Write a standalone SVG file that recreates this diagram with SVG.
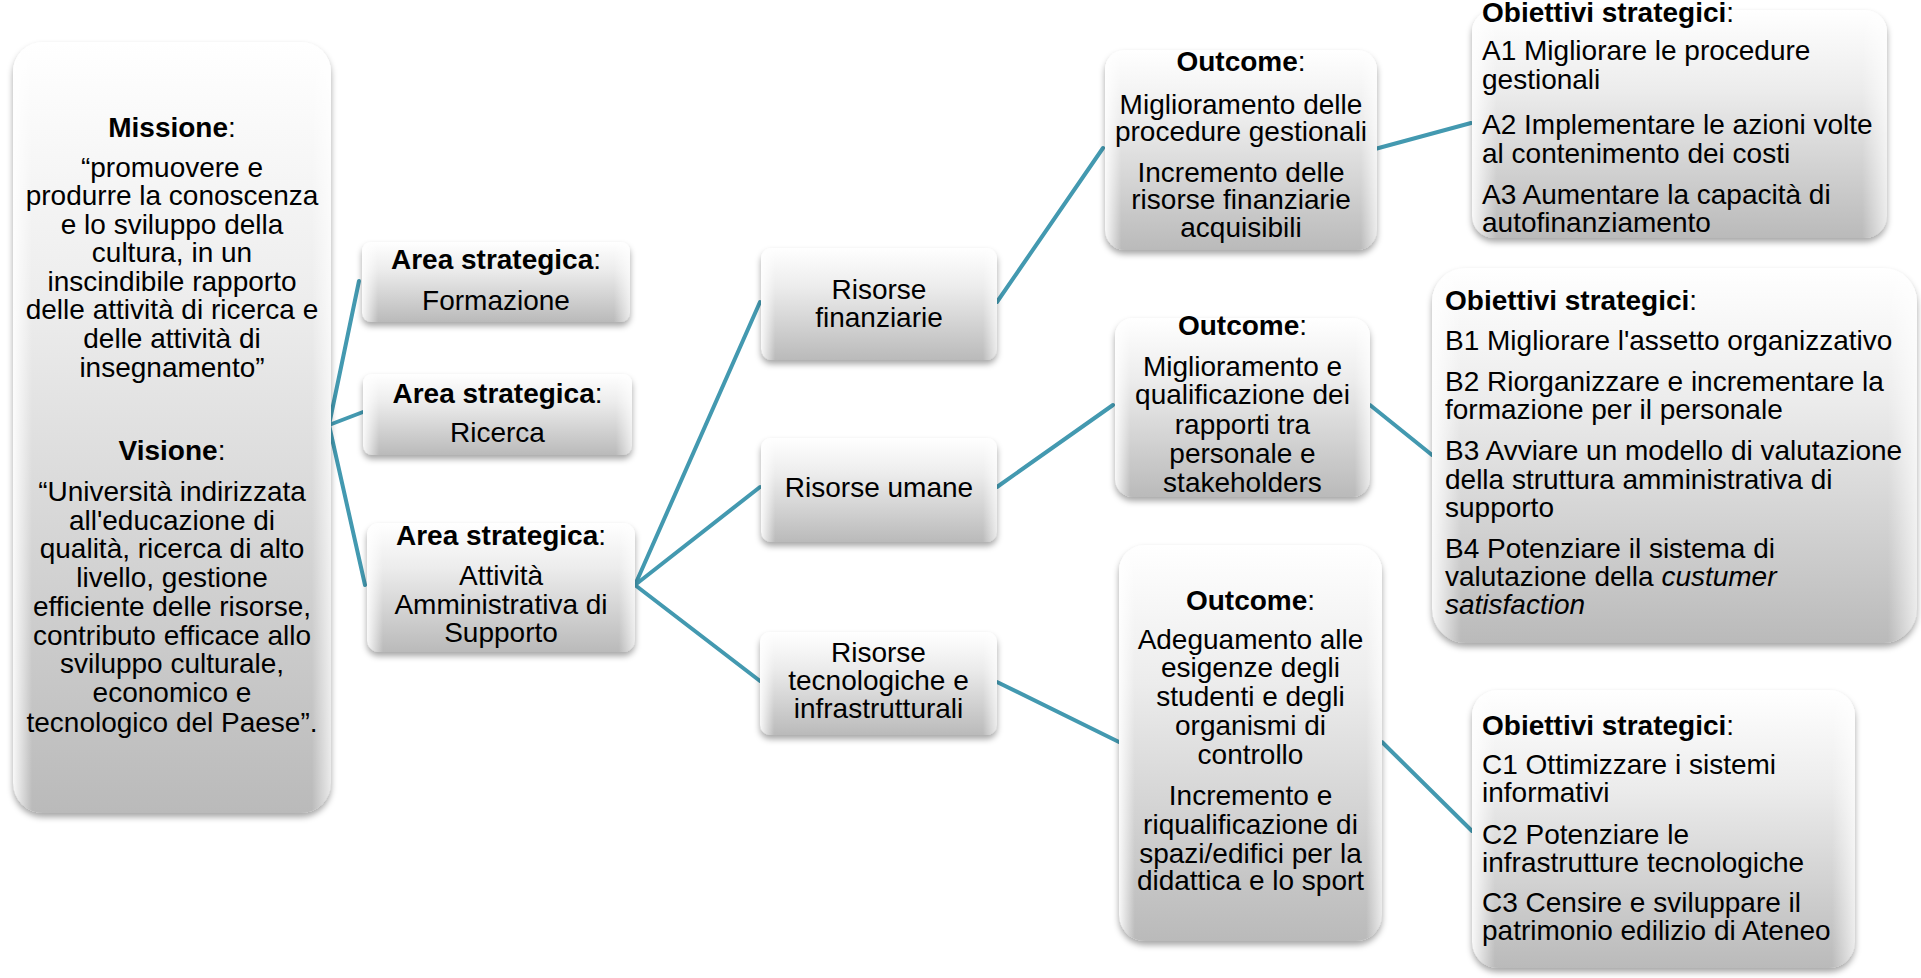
<svg xmlns="http://www.w3.org/2000/svg" width="1921" height="978" viewBox="0 0 1921 978">
<defs>
<linearGradient id="g" x1="0" y1="0" x2="0" y2="1">
<stop offset="0" stop-color="#ffffff"/>
<stop offset="0.35" stop-color="#ececec"/>
<stop offset="1" stop-color="#bababa"/>
</linearGradient>
<linearGradient id="edge" x1="0" y1="0" x2="1" y2="0">
<stop offset="0" stop-color="#ffffff" stop-opacity="0.9"/>
<stop offset="0.06" stop-color="#ffffff" stop-opacity="0"/>
<stop offset="0.94" stop-color="#ffffff" stop-opacity="0"/>
<stop offset="1" stop-color="#ffffff" stop-opacity="0.7"/>
</linearGradient>
<filter id="sh" x="-10%" y="-10%" width="120%" height="125%">
<feDropShadow dx="0" dy="4" stdDeviation="3" flood-color="#000" flood-opacity="0.35"/>
</filter>
</defs>
<style>
.box{fill:url(#g);filter:url(#sh)}
.hl{fill:url(#edge)}
.t{font-family:"Liberation Sans",Arial,sans-serif;font-size:28px;fill:#000}
.c{text-anchor:middle}
.b{font-weight:bold}
.i{font-style:italic}
.ln{stroke:#4399b0;stroke-width:4;fill:none;stroke-linecap:round}
</style>

<g id="connectors">
<line class="ln" x1="329" y1="425" x2="359" y2="281"/>
<line class="ln" x1="329" y1="425" x2="363" y2="412"/>
<line class="ln" x1="329" y1="425" x2="365" y2="585"/>
<line class="ln" x1="635" y1="585" x2="760" y2="302"/>
<line class="ln" x1="635" y1="585" x2="760" y2="487"/>
<line class="ln" x1="635" y1="585" x2="760" y2="681"/>
<line class="ln" x1="997" y1="302" x2="1103" y2="148"/>
<line class="ln" x1="997" y1="487" x2="1113" y2="405"/>
<line class="ln" x1="997" y1="682" x2="1119" y2="742"/>
<line class="ln" x1="1375" y1="149" x2="1471" y2="123"/>
<line class="ln" x1="1370" y1="405" x2="1432" y2="455"/>
<line class="ln" x1="1382" y1="742" x2="1472" y2="831"/>
</g>

<g id="missione">
<rect class="box" x="13" y="42" width="318" height="771" rx="30"/>
<rect class="hl" x="13" y="42" width="318" height="771" rx="30"/>
<text class="t c" x="172" y="137"><tspan class="b">Missione</tspan>:</text>
<text class="t c" x="172" y="177">“promuovere e</text>
<text class="t c" x="172" y="205">produrre la conoscenza</text>
<text class="t c" x="172" y="233.5">e lo sviluppo della</text>
<text class="t c" x="172" y="262">cultura, in un</text>
<text class="t c" x="172" y="290.5">inscindibile rapporto</text>
<text class="t c" x="172" y="319">delle attività di ricerca e</text>
<text class="t c" x="172" y="348">delle attività di</text>
<text class="t c" x="172" y="377">insegnamento”</text>
<text class="t c" x="172" y="460"><tspan class="b">Visione</tspan>:</text>
<text class="t c" x="172" y="501">“Università indirizzata</text>
<text class="t c" x="172" y="529.5">all'educazione di</text>
<text class="t c" x="172" y="558">qualità, ricerca di alto</text>
<text class="t c" x="172" y="587">livello, gestione</text>
<text class="t c" x="172" y="616">efficiente delle risorse,</text>
<text class="t c" x="172" y="644.5">contributo efficace allo</text>
<text class="t c" x="172" y="673">sviluppo culturale,</text>
<text class="t c" x="172" y="702">economico e</text>
<text class="t c" x="172" y="731.5">tecnologico del Paese”.</text>
</g>

<g id="area-formazione">
<rect class="box" x="362" y="242" width="268" height="80" rx="9"/>
<rect class="hl" x="362" y="242" width="268" height="80" rx="9"/>
<text class="t c" x="496" y="268.5"><tspan class="b">Area strategica</tspan>:</text>
<text class="t c" x="496" y="309.5">Formazione</text>
</g>

<g id="area-ricerca">
<rect class="box" x="363" y="374" width="269" height="81" rx="9"/>
<rect class="hl" x="363" y="374" width="269" height="81" rx="9"/>
<text class="t c" x="497.5" y="403"><tspan class="b">Area strategica</tspan>:</text>
<text class="t c" x="497.5" y="442">Ricerca</text>
</g>

<g id="area-amministrativa">
<rect class="box" x="367" y="523" width="268" height="129" rx="12"/>
<rect class="hl" x="367" y="523" width="268" height="129" rx="12"/>
<text class="t c" x="501" y="545"><tspan class="b">Area strategica</tspan>:</text>
<text class="t c" x="501" y="585">Attività</text>
<text class="t c" x="501" y="614">Amministrativa di</text>
<text class="t c" x="501" y="642">Supporto</text>
</g>

<g id="risorse-finanziarie">
<rect class="box" x="761" y="248" width="236" height="112" rx="11"/>
<rect class="hl" x="761" y="248" width="236" height="112" rx="11"/>
<text class="t c" x="879" y="298.5">Risorse</text>
<text class="t c" x="879" y="327">finanziarie</text>
</g>

<g id="risorse-umane">
<rect class="box" x="761" y="438" width="236" height="104" rx="10"/>
<rect class="hl" x="761" y="438" width="236" height="104" rx="10"/>
<text class="t c" x="879" y="497">Risorse umane</text>
</g>

<g id="risorse-tecnologiche">
<rect class="box" x="760" y="632" width="237" height="103" rx="10"/>
<rect class="hl" x="760" y="632" width="237" height="103" rx="10"/>
<text class="t c" x="878.5" y="662">Risorse</text>
<text class="t c" x="878.5" y="690">tecnologiche e</text>
<text class="t c" x="878.5" y="717.5">infrastrutturali</text>
</g>

<g id="outcome-1">
<rect class="box" x="1105" y="50" width="272" height="200" rx="20"/>
<rect class="hl" x="1105" y="50" width="272" height="200" rx="20"/>
<text class="t c" x="1241" y="71"><tspan class="b">Outcome</tspan>:</text>
<text class="t c" x="1241" y="113.5">Miglioramento delle</text>
<text class="t c" x="1241" y="140.5">procedure gestionali</text>
<text class="t c" x="1241" y="181.5">Incremento delle</text>
<text class="t c" x="1241" y="208.5">risorse finanziarie</text>
<text class="t c" x="1241" y="237">acquisibili</text>
</g>

<g id="outcome-2">
<rect class="box" x="1115" y="318" width="255" height="179" rx="18"/>
<rect class="hl" x="1115" y="318" width="255" height="179" rx="18"/>
<text class="t c" x="1242.5" y="335"><tspan class="b">Outcome</tspan>:</text>
<text class="t c" x="1242.5" y="376">Miglioramento e</text>
<text class="t c" x="1242.5" y="403.5">qualificazione dei</text>
<text class="t c" x="1242.5" y="433.5">rapporti tra</text>
<text class="t c" x="1242.5" y="463">personale e</text>
<text class="t c" x="1242.5" y="492">stakeholders</text>
</g>

<g id="outcome-3">
<rect class="box" x="1119" y="545" width="263" height="396" rx="26"/>
<rect class="hl" x="1119" y="545" width="263" height="396" rx="26"/>
<text class="t c" x="1250.5" y="610"><tspan class="b">Outcome</tspan>:</text>
<text class="t c" x="1250.5" y="648.5">Adeguamento alle</text>
<text class="t c" x="1250.5" y="677">esigenze degli</text>
<text class="t c" x="1250.5" y="706">studenti e degli</text>
<text class="t c" x="1250.5" y="735">organismi di</text>
<text class="t c" x="1250.5" y="763.5">controllo</text>
<text class="t c" x="1250.5" y="805">Incremento e</text>
<text class="t c" x="1250.5" y="833.5">riqualificazione di</text>
<text class="t c" x="1250.5" y="862.5">spazi/edifici per la</text>
<text class="t c" x="1250.5" y="890">didattica e lo sport</text>
</g>

<g id="obiettivi-a">
<rect class="box" x="1472" y="10" width="415" height="228" rx="22"/>
<rect class="hl" x="1472" y="10" width="415" height="228" rx="22"/>
<text class="t" x="1482" y="21.5"><tspan class="b">Obiettivi strategici</tspan>:</text>
<text class="t" x="1482" y="59.5">A1 Migliorare le procedure</text>
<text class="t" x="1482" y="88.5">gestionali</text>
<text class="t" x="1482" y="133.5">A2 Implementare le azioni volte</text>
<text class="t" x="1482" y="163">al contenimento dei costi</text>
<text class="t" x="1482" y="203.5">A3 Aumentare la capacità di</text>
<text class="t" x="1482" y="231.5">autofinanziamento</text>
</g>

<g id="obiettivi-b">
<rect class="box" x="1432" y="268" width="485" height="375" rx="34"/>
<rect class="hl" x="1432" y="268" width="485" height="375" rx="34"/>
<text class="t" x="1445" y="310"><tspan class="b">Obiettivi strategici</tspan>:</text>
<text class="t" x="1445" y="350">B1 Migliorare l'assetto organizzativo</text>
<text class="t" x="1445" y="390.5">B2 Riorganizzare e incrementare la</text>
<text class="t" x="1445" y="418.5">formazione per il personale</text>
<text class="t" x="1445" y="460">B3 Avviare un modello di valutazione</text>
<text class="t" x="1445" y="489">della struttura amministrativa di</text>
<text class="t" x="1445" y="517">supporto</text>
<text class="t" x="1445" y="557.5">B4 Potenziare il sistema di</text>
<text class="t" x="1445" y="586">valutazione della <tspan class="i">custumer</tspan></text>
<text class="t i" x="1445" y="614">satisfaction</text>
</g>

<g id="obiettivi-c">
<rect class="box" x="1472" y="690" width="383" height="278" rx="26"/>
<rect class="hl" x="1472" y="690" width="383" height="278" rx="26"/>
<text class="t" x="1482" y="735"><tspan class="b">Obiettivi strategici</tspan>:</text>
<text class="t" x="1482" y="773.5">C1 Ottimizzare i sistemi</text>
<text class="t" x="1482" y="802">informativi</text>
<text class="t" x="1482" y="843.5">C2 Potenziare le</text>
<text class="t" x="1482" y="872">infrastrutture tecnologiche</text>
<text class="t" x="1482" y="912">C3 Censire e sviluppare il</text>
<text class="t" x="1482" y="940">patrimonio edilizio di Ateneo</text>
</g>
</svg>
